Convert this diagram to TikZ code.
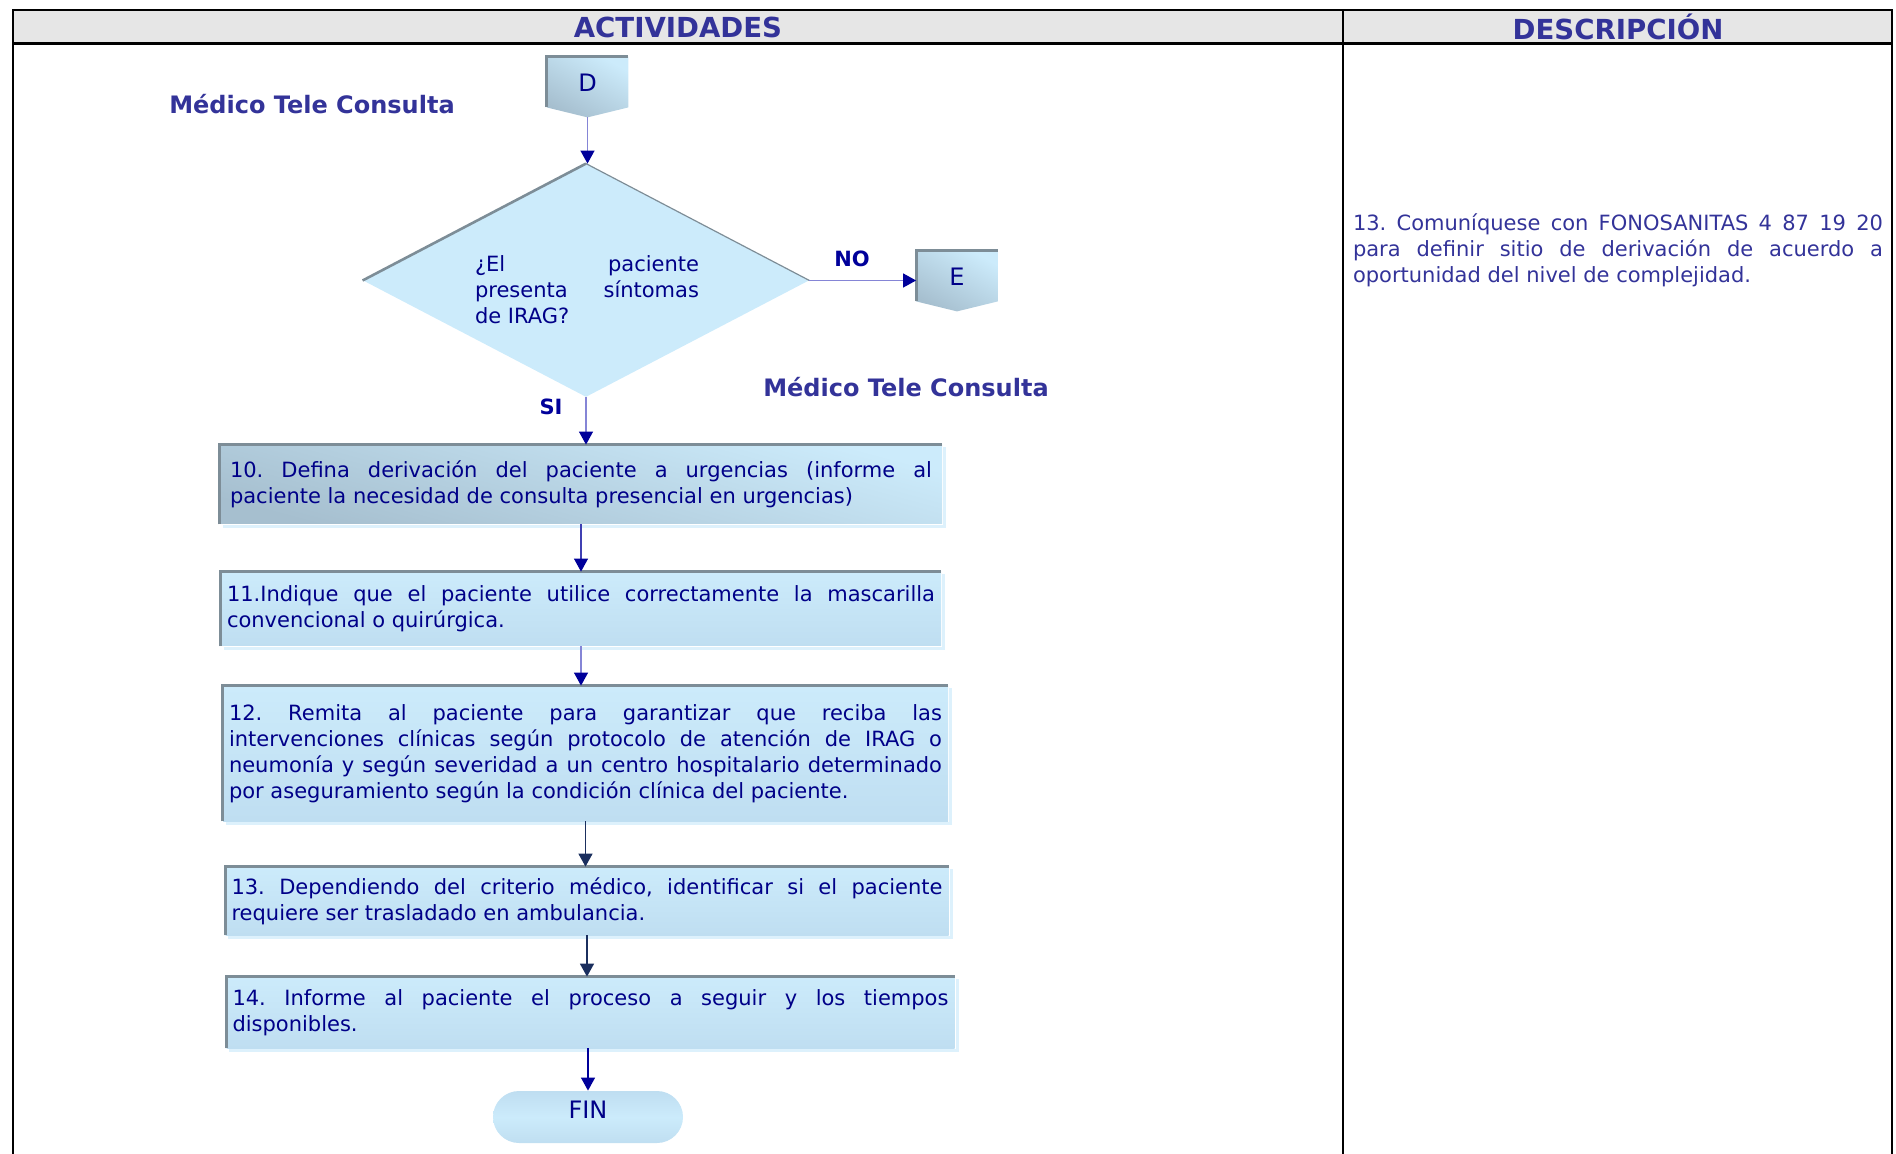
\documentclass[tikz,border=0pt]{standalone}
\usepackage{fontspec}
\setmainfont{DejaVu Sans}
\usetikzlibrary{shapes.geometric,arrows.meta,backgrounds}

\definecolor{hdrgray}{HTML}{E6E6E6}
\definecolor{hdrblue}{HTML}{333399}
\definecolor{txtblue}{HTML}{000088}
\definecolor{boxlight}{HTML}{CCEBFB}
\definecolor{boxmid}{HTML}{BFDEF1}
\definecolor{boxdark}{HTML}{A6BFCF}
\definecolor{edgegray}{HTML}{7D8D97}
\definecolor{glowblue}{HTML}{DDF1FC}
\definecolor{lineblue}{HTML}{8585D6}
\definecolor{headblue}{HTML}{00009A}
\definecolor{navy}{HTML}{1B2F5E}

\tikzset{
  tableline/.style={draw=black, line width=1.25pt},
  textsize/.style={font=\fontsize{10.5pt}{13pt}\selectfont, align=justify,
    execute at begin node={\frenchspacing\sloppy\hyphenpenalty=10000}},
  actbox/.style={rectangle, textsize, inner xsep=3pt, inner ysep=0pt, top color=boxlight, bottom color=boxmid, text=txtblue},
  decision/.style={diamond, minimum width=223pt, minimum height=116.5pt, inner sep=0pt, fill=boxlight},
  qtext/.style={textsize, text width=112pt, inner sep=0pt, text=txtblue},
  offpage/.style={rectangle, inner sep=0pt, minimum width=40.5pt, minimum height=30pt, text=txtblue, font=\fontsize{12pt}{14pt}\selectfont, text height=8.8pt, text depth=4pt},
  terminal/.style={rectangle, rounded corners=13pt, minimum width=95pt, minimum height=26pt, inner sep=0pt, top color=boxmid, bottom color=boxmid, middle color=boxlight, text=txtblue, font=\fontsize{12pt}{14pt}\selectfont, text height=8.8pt, text depth=7pt},
  edge/.style={draw=edgegray, line width=1.4pt},
  glow/.style={draw=glowblue, line width=1.6pt},
  flow/.style={draw=lineblue, line width=0.6pt, -{Triangle[length=6.5pt,width=7pt,color=headblue]}},
  flownavy/.style={draw=navy, line width=0.8pt, -{Triangle[length=6.5pt,width=7pt,color=navy]}},
  role/.style={text=hdrblue, font=\bfseries\fontsize{12pt}{14pt}\selectfont},
  answer/.style={text=headblue, font=\bfseries\fontsize{10.5pt}{13pt}\selectfont},
  heading/.style={text=hdrblue, font=\bfseries\fontsize{13.8pt}{16pt}\selectfont}
}

\begin{document}
\begin{tikzpicture}[x=0.5pt,y=-0.5pt]
  \useasboundingbox (0,0) rectangle (1896,1154);

  \fill[hdrgray] (13,10) rectangle (1892,43.5);
  \draw[tableline] (13,1154) -- (13,10) -- (1892,10) -- (1892,1154);
  \draw[tableline] (13,43.5) -- (1892,43.5);
  \draw[tableline] (1343,10) -- (1343,1154);
  \node[heading] (hact) at (678,27) {ACTIVIDADES};
  \node[heading] (hdesc) at (1618,27) {DESCRIPCIÓN};

  \node[role] (med1) at (312,104) {Médico Tele Consulta};
  \node[role] (med2) at (906,387) {Médico Tele Consulta};

  \node[offpage] (d) at (587.5,87) {D};
  \node[offpage] (e) at (957,281) {E};
  \begin{scope}[on background layer]
    \foreach \n in {d,e}{
      \shade[top color=boxlight, bottom color=boxdark, shading angle=-30]
        (\n.north west) -- (\n.north east) -- ([yshift=5pt]\n.south east)
        -- (\n.south) -- ([yshift=5pt]\n.south west) -- cycle;
      \draw[edge] ([yshift=5pt]\n.south west) -- (\n.north west) -- (\n.north east);
    }
  \end{scope}

  \node[decision] (q) at (586,280.5) {};
  \draw[edge, line width=1.3pt] (q.west) -- (q.north);
  \draw[draw=edgegray, line width=0.6pt] (q.north) -- (q.east);
  \node[qtext] (qt) at (587,290) {¿El paciente \linebreak presenta síntomas \linebreak de IRAG?};
  \node[answer] (no) at (852,259) {NO};
  \node[answer] (si) at (551,407) {SI};

  \node[actbox, text width=351pt, inner xsep=5pt, minimum height=39.5pt,
        bottom color=boxdark, shading angle=-15] (b10) at (581,484.5)
    {10. Defina derivación del paciente a urgencias (informe al \linebreak
     paciente la necesidad de consulta presencial en urgencias)};
  \node[actbox, text width=354pt, minimum height=37pt] (b11) at (581,609)
    {11.Indique que el paciente utilice correctamente la mascarilla \linebreak
     convencional o quirúrgica.};
  \node[actbox, text width=356.5pt, minimum height=67.5pt] (b12) at (585.5,753.5)
    {12. Remita al paciente para garantizar que reciba las \linebreak
     intervenciones clínicas según protocolo de atención de IRAG o \linebreak
     neumonía y según severidad a un centro hospitalario determinado \linebreak
     por aseguramiento según la condición clínica del paciente.};
  \node[actbox, text width=355.5pt, minimum height=34pt] (b13) at (587,901)
    {13. Dependiendo del criterio médico, identificar si el paciente \linebreak
     requiere ser trasladado en ambulancia.};
  \node[actbox, text width=358pt, minimum height=35.5pt] (b14) at (590.5,1012.5)
    {14. Informe al paciente el proceso a seguir y los tiempos \linebreak
     disponibles.};
  \foreach \b in {b10,b11,b12,b13,b14}{
    \draw[glow] ([xshift=1.5pt,yshift=-1pt]\b.south west) -- ([xshift=1.2pt,yshift=-1pt]\b.south east)
      -- ([xshift=1.2pt,yshift=-1pt]\b.north east);
    \draw[edge] (\b.south west) -- (\b.north west) -- (\b.north east);
  }

  \node[terminal] (fin) at (588,1117) {FIN};

  \node[textsize, text width=265pt, inner sep=0pt, text=hdrblue] (desc) at (1618,250)
    {13. Comuníquese con FONOSANITAS 4 87 19 20 \linebreak
     para definir sitio de derivación de acuerdo a \linebreak
     oportunidad del nivel de complejidad.};

  \draw[flow] (d.south) -- (d.south |- q.north);
  \draw[flow] (q.east) -- (q.east -| e.west);
  \draw[flow] (q.south) -- (q.south |- b10.north);
  \draw[flow, draw=headblue!75] (b10.south) -- (b10.south |- b11.north);
  \draw[flow] (b11.south) -- (b11.south |- b12.north);
  \draw[flownavy] (b12.south) -- (b12.south |- b13.north);
  \draw[flownavy] (b13.south) -- (b13.south |- b14.north);
  \draw[flow, draw=headblue] (fin.north |- b14.south) -- (fin.north);
\end{tikzpicture}
\end{document}
